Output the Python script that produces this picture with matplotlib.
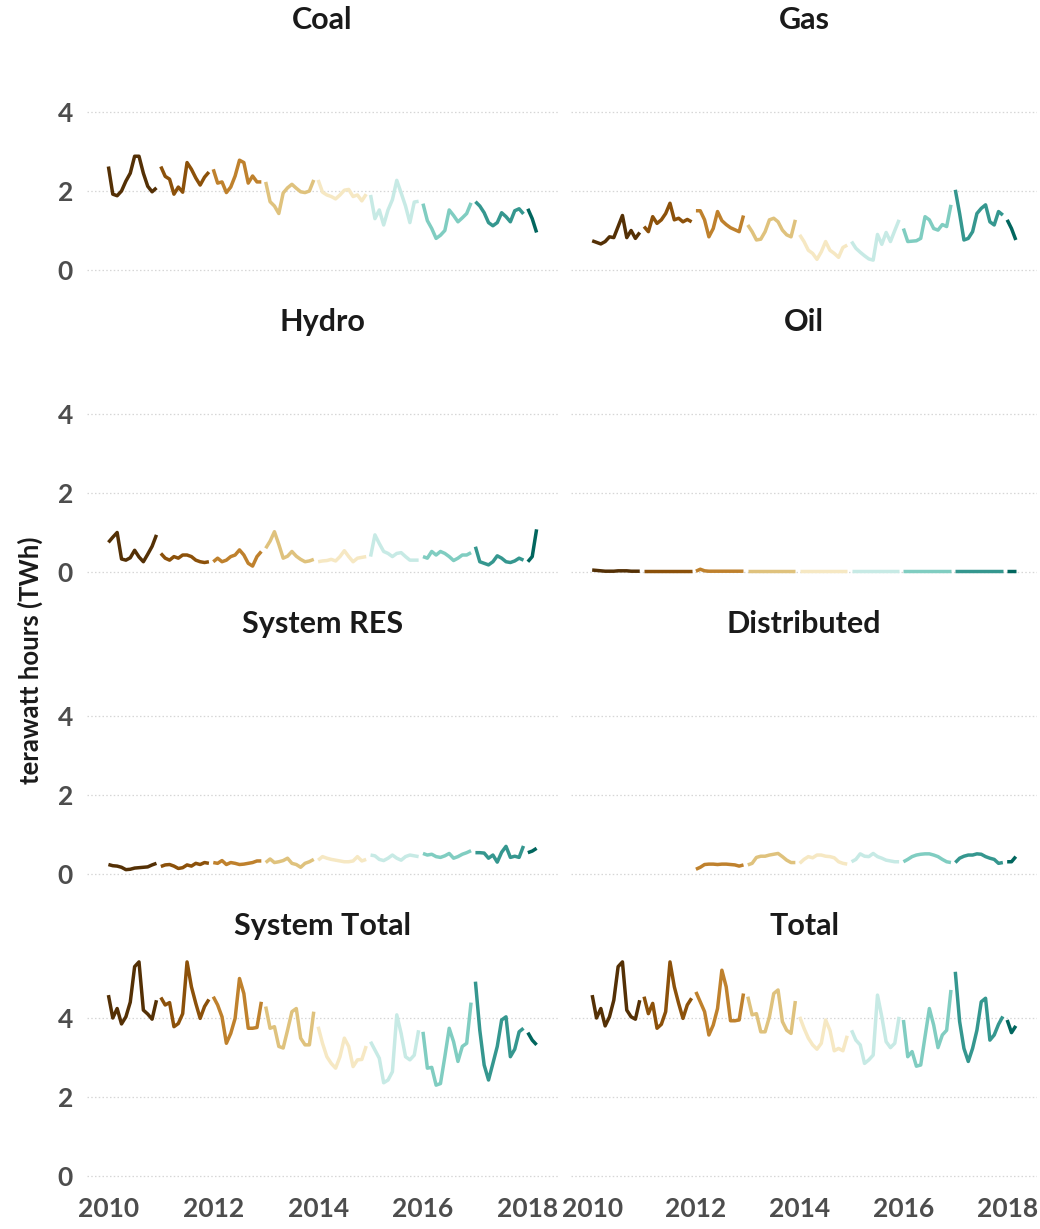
import numpy as np
import matplotlib
matplotlib.use("Agg")
import matplotlib.pyplot as plt

# ---------------- data (monthly TWh, Jan 2010 - Mar 2018) ----------------
years = [2010, 2011, 2012, 2013, 2014, 2015, 2016, 2017, 2018]
year_colors = ["#543005", "#8c510a", "#bf812d", "#dfc27d", "#f6e8c3",
               "#c7eae5", "#80cdc1", "#35978f", "#01665e"]
x_ticks = [2010, 2012, 2014, 2016, 2018]
y_ticks = [0, 2, 4]

coal = [2.62, 1.92, 1.88, 2.0, 2.25, 2.45, 2.88, 2.88, 2.45, 2.12, 1.98, 2.08,
        2.62, 2.37, 2.3, 1.92, 2.1, 1.97, 2.72, 2.55, 2.33, 2.15, 2.35, 2.48,
        2.55, 2.2, 2.23, 1.96, 2.1, 2.38, 2.78, 2.72, 2.2, 2.38, 2.23, 2.23,
        2.23, 1.73, 1.62, 1.43, 1.95, 2.08, 2.17, 2.07, 1.98, 1.96, 2.0, 2.28,
        2.28, 1.97, 1.9, 1.86, 1.8, 1.9, 2.02, 2.04, 1.86, 1.9, 1.75, 1.92,
        1.9, 1.3, 1.52, 1.14, 1.52, 1.78, 2.27, 1.95, 1.62, 1.2, 1.72, 1.74,
        1.68, 1.25, 1.05, 0.8, 0.88, 1.0, 1.52, 1.38, 1.22, 1.32, 1.43, 1.7,
        1.73, 1.62, 1.45, 1.2, 1.12, 1.2, 1.45, 1.35, 1.22, 1.5, 1.55, 1.42,
        1.55, 1.3, 0.95]

gas = [0.74, 0.7, 0.66, 0.72, 0.84, 0.82, 1.1, 1.38, 0.82, 1.0, 0.8, 0.95,
       1.1, 0.97, 1.35, 1.18, 1.27, 1.43, 1.69, 1.27, 1.31, 1.22, 1.28, 1.22,
       1.5, 1.5, 1.27, 0.84, 1.05, 1.48, 1.25, 1.15, 1.07, 1.02, 0.97, 1.38,
       1.14, 0.97, 0.76, 0.78, 0.97, 1.27, 1.31, 1.22, 1.01, 0.89, 0.84, 1.27,
       0.89, 0.72, 0.5, 0.42, 0.27, 0.46, 0.72, 0.5, 0.42, 0.32, 0.57, 0.63,
       0.72, 0.55, 0.45, 0.36, 0.28, 0.25, 0.9, 0.65, 0.95, 0.72, 1.0, 1.27,
       1.05, 0.72, 0.73, 0.74, 0.8, 1.35, 1.27, 1.05, 1.01, 1.15, 1.1, 1.65,
       2.03, 1.43, 0.76, 0.8, 0.97, 1.43, 1.56, 1.65, 1.22, 1.14, 1.48, 1.39,
       1.27, 1.05, 0.76]

hydro = [0.75, 0.88, 1.0, 0.33, 0.3, 0.36, 0.55, 0.38, 0.26, 0.45, 0.65, 0.94,
         0.47, 0.35, 0.3, 0.39, 0.35, 0.43, 0.43, 0.39, 0.3, 0.26, 0.24, 0.26,
         0.26, 0.35, 0.26, 0.3, 0.39, 0.43, 0.56, 0.43, 0.22, 0.15, 0.39, 0.52,
         0.6, 0.78, 1.02, 0.7, 0.35, 0.4, 0.52, 0.4, 0.32, 0.26, 0.28, 0.32,
         0.26, 0.28, 0.29, 0.32, 0.28, 0.39, 0.54, 0.39, 0.26, 0.35, 0.37, 0.39,
         0.39, 0.94, 0.72, 0.52, 0.47, 0.39, 0.47, 0.49, 0.39, 0.3, 0.3, 0.3,
         0.39, 0.35, 0.52, 0.43, 0.52, 0.47, 0.39, 0.29, 0.35, 0.43, 0.43, 0.49,
         0.64, 0.26, 0.22, 0.18, 0.26, 0.41, 0.35, 0.26, 0.24, 0.28, 0.35, 0.3,
         0.26, 0.39, 1.08]

oil = [0.05, 0.04, 0.03, 0.02, 0.02, 0.02, 0.03, 0.03, 0.03, 0.02, 0.02, 0.02,
       0.02, 0.02, 0.02, 0.02, 0.02, 0.02, 0.02, 0.02, 0.02, 0.02, 0.02, 0.02,
       0.02, 0.07, 0.03, 0.02, 0.02, 0.02, 0.02, 0.02, 0.02, 0.02, 0.02, 0.02,
       0.02, 0.02, 0.02, 0.02, 0.02, 0.02, 0.02, 0.02, 0.02, 0.02, 0.02, 0.02,
       0.02, 0.02, 0.02, 0.02, 0.02, 0.02, 0.02, 0.02, 0.02, 0.02, 0.02, 0.02,
       0.02, 0.02, 0.02, 0.02, 0.02, 0.02, 0.02, 0.02, 0.02, 0.02, 0.02, 0.02,
       0.02, 0.02, 0.02, 0.02, 0.02, 0.02, 0.02, 0.02, 0.02, 0.02, 0.02, 0.02,
       0.02, 0.02, 0.02, 0.02, 0.02, 0.02, 0.02, 0.02, 0.02, 0.02, 0.02, 0.02,
       0.02, 0.02, 0.02]

system_res = [0.24, 0.21, 0.2, 0.17, 0.11, 0.12, 0.15, 0.16, 0.17, 0.18, 0.23, 0.27,
              0.19, 0.23, 0.24, 0.2, 0.14, 0.16, 0.23, 0.2, 0.27, 0.24, 0.29, 0.27,
              0.29, 0.27, 0.34, 0.24, 0.29, 0.27, 0.24, 0.25, 0.27, 0.29, 0.33, 0.33,
              0.29, 0.38, 0.29, 0.31, 0.34, 0.4, 0.27, 0.24, 0.17, 0.27, 0.31, 0.37,
              0.35, 0.44, 0.4, 0.37, 0.35, 0.33, 0.31, 0.31, 0.33, 0.44, 0.33, 0.37,
              0.48, 0.46, 0.37, 0.34, 0.4, 0.48, 0.4, 0.35, 0.44, 0.48, 0.46, 0.44,
              0.52, 0.48, 0.5, 0.44, 0.42, 0.46, 0.52, 0.4, 0.44, 0.5, 0.54, 0.59,
              0.54, 0.54, 0.53, 0.4, 0.48, 0.3, 0.55, 0.7, 0.42, 0.45, 0.42, 0.71,
              0.54, 0.58, 0.65]

nan = float("nan")
distributed = [nan] * 24 + [
    0.12, 0.17, 0.24, 0.25, 0.25, 0.24, 0.25, 0.25, 0.24, 0.23, 0.2, 0.23,
    0.23, 0.27, 0.42, 0.45, 0.45, 0.48, 0.5, 0.52, 0.44, 0.35, 0.29, 0.29,
    0.27, 0.37, 0.44, 0.41, 0.48, 0.48, 0.45, 0.44, 0.41, 0.31, 0.27, 0.25,
    0.31, 0.37, 0.51, 0.45, 0.44, 0.52, 0.44, 0.4, 0.35, 0.33, 0.31, 0.31,
    0.31, 0.37, 0.44, 0.48, 0.5, 0.51, 0.51, 0.48, 0.44, 0.37, 0.31, 0.29,
    0.29, 0.4, 0.45, 0.48, 0.48, 0.51, 0.5, 0.44, 0.4, 0.37, 0.27, 0.29,
    0.31, 0.31, 0.44]

system_total = [4.58, 4.0, 4.24, 3.85, 4.03, 4.4, 5.3, 5.42, 4.2, 4.1, 3.97, 4.45,
                4.52, 4.33, 4.39, 3.78, 3.86, 4.11, 5.42, 4.79, 4.37, 3.99, 4.29, 4.47,
                4.54, 4.33, 4.03, 3.36, 3.61, 3.99, 5.0, 4.62, 3.74, 3.74, 3.76, 4.41,
                4.29, 3.74, 3.78, 3.28, 3.24, 3.69, 4.16, 4.24, 3.49, 3.32, 3.32, 4.16,
                3.78, 3.36, 3.02, 2.85, 2.73, 3.02, 3.49, 3.28, 2.77, 2.94, 2.95, 3.29,
                3.4, 3.19, 2.98, 2.36, 2.43, 2.64, 4.08, 3.61, 3.02, 2.94, 3.06, 3.69,
                3.65, 2.73, 2.75, 2.3, 2.34, 3.02, 3.74, 3.4, 2.9, 3.28, 3.36, 4.39,
                4.92, 3.69, 2.81, 2.43, 2.85, 3.28, 3.95, 4.03, 3.02, 3.21, 3.65, 3.74,
                3.63, 3.44, 3.32]

total = [4.58, 4.0, 4.24, 3.8, 4.03, 4.45, 5.3, 5.42, 4.2, 4.03, 3.97, 4.45,
         4.54, 4.11, 4.37, 3.74, 3.84, 4.16, 5.42, 4.79, 4.37, 3.99, 4.33, 4.5,
         4.66, 4.41, 4.16, 3.57, 3.82, 4.24, 5.21, 4.79, 3.93, 3.93, 3.95, 4.62,
         4.54, 4.08, 4.11, 3.65, 3.65, 4.03, 4.62, 4.71, 3.91, 3.69, 3.61, 4.43,
         4.03, 3.74, 3.49, 3.32, 3.21, 3.36, 3.95, 3.69, 3.17, 3.23, 3.17, 3.55,
         3.69, 3.44, 3.32, 2.85, 2.94, 3.06, 4.58, 4.03, 3.4, 3.25, 3.36, 4.03,
         3.95, 3.02, 3.15, 2.78, 2.81, 3.53, 4.24, 3.82, 3.25, 3.57, 3.69, 4.71,
         5.17, 3.91, 3.23, 2.9, 3.23, 3.69, 4.41, 4.5, 3.44, 3.57, 3.84, 4.04,
         3.95, 3.63, 3.8]

panel_titles = ["Coal", "Gas", "Hydro", "Oil", "System RES", "Distributed",
                "System Total", "Total"]
panel_series = [coal, gas, hydro, oil, system_res, distributed, system_total, total]

# ---------------- figure ----------------
W, H = 1040, 1229
fig = plt.figure(figsize=(W / 100, H / 100), dpi=100)
FONT = ["Lato", "DejaVu Sans"]

x_start = 2010.0
x_end = 2010 + (len(coal) - 1) / 12
span = x_end - x_start
xlim = (x_start - 0.05 * span, x_end + 0.05 * span)
ylim = (-0.275, 5.775)

col_x = [(87, 558), (571, 1037)]
zero_rows = [270, 572, 874, 1176]
px_per_unit = 39.5

def frac_rect(x0, x1, ytop, ybot):
    return [x0 / W, 1 - ybot / H, (x1 - x0) / W, (ybot - ytop) / H]

for i, (title, series) in enumerate(zip(panel_titles, panel_series)):
    r, c = divmod(i, 2)
    z = zero_rows[r]
    ytop = z - ylim[1] * px_per_unit
    ybot = z - ylim[0] * px_per_unit
    x0, x1 = col_x[c]
    ax = fig.add_axes(frac_rect(x0, x1, ytop, ybot))
    ax.set_xlim(*xlim)
    ax.set_ylim(*ylim)
    for s in ax.spines.values():
        s.set_visible(False)
    for yv in y_ticks:
        ax.axhline(yv, color="#d6d6d6", lw=0.9, ls=(0, (1.2, 1.8)), zorder=0)
    vals = np.array(series, dtype=float)
    for k, (yr, col) in enumerate(zip(years, year_colors)):
        seg = vals[k * 12:(k + 1) * 12]
        xs = yr + np.arange(len(seg)) / 12
        ax.plot(xs, seg, color=col, lw=2.5, solid_capstyle="butt",
                solid_joinstyle="round", zorder=3)
    ax.set_yticks(y_ticks)
    ax.set_xticks(x_ticks)
    ax.tick_params(length=0, labelsize=19, labelcolor="#4d4d4d")
    ax.tick_params(axis="x", pad=7)
    ax.tick_params(axis="y", pad=10)
    if c == 0:
        ax.set_yticklabels([str(v) for v in y_ticks], fontweight="bold",
                           family=FONT)
    else:
        ax.set_yticklabels([])
    if r == 3:
        ax.set_xticklabels([str(v) for v in x_ticks], fontweight="bold",
                           family=FONT)
    else:
        ax.set_xticklabels([])
    fig.text(((x0 + x1) / 2) / W, 1 - (z - 250) / H, title, ha="center",
             va="center", fontsize=22, fontweight="bold", color="#1a1a1a",
             family=FONT)

fig.text(30 / W, 1 - 660 / H, "terawatt hours (TWh)", rotation=90,
         ha="center", va="center", fontsize=18.5, fontweight="bold",
         color="#1a1a1a", family=FONT)

fig.savefig("out.png", dpi=100, facecolor="white")
